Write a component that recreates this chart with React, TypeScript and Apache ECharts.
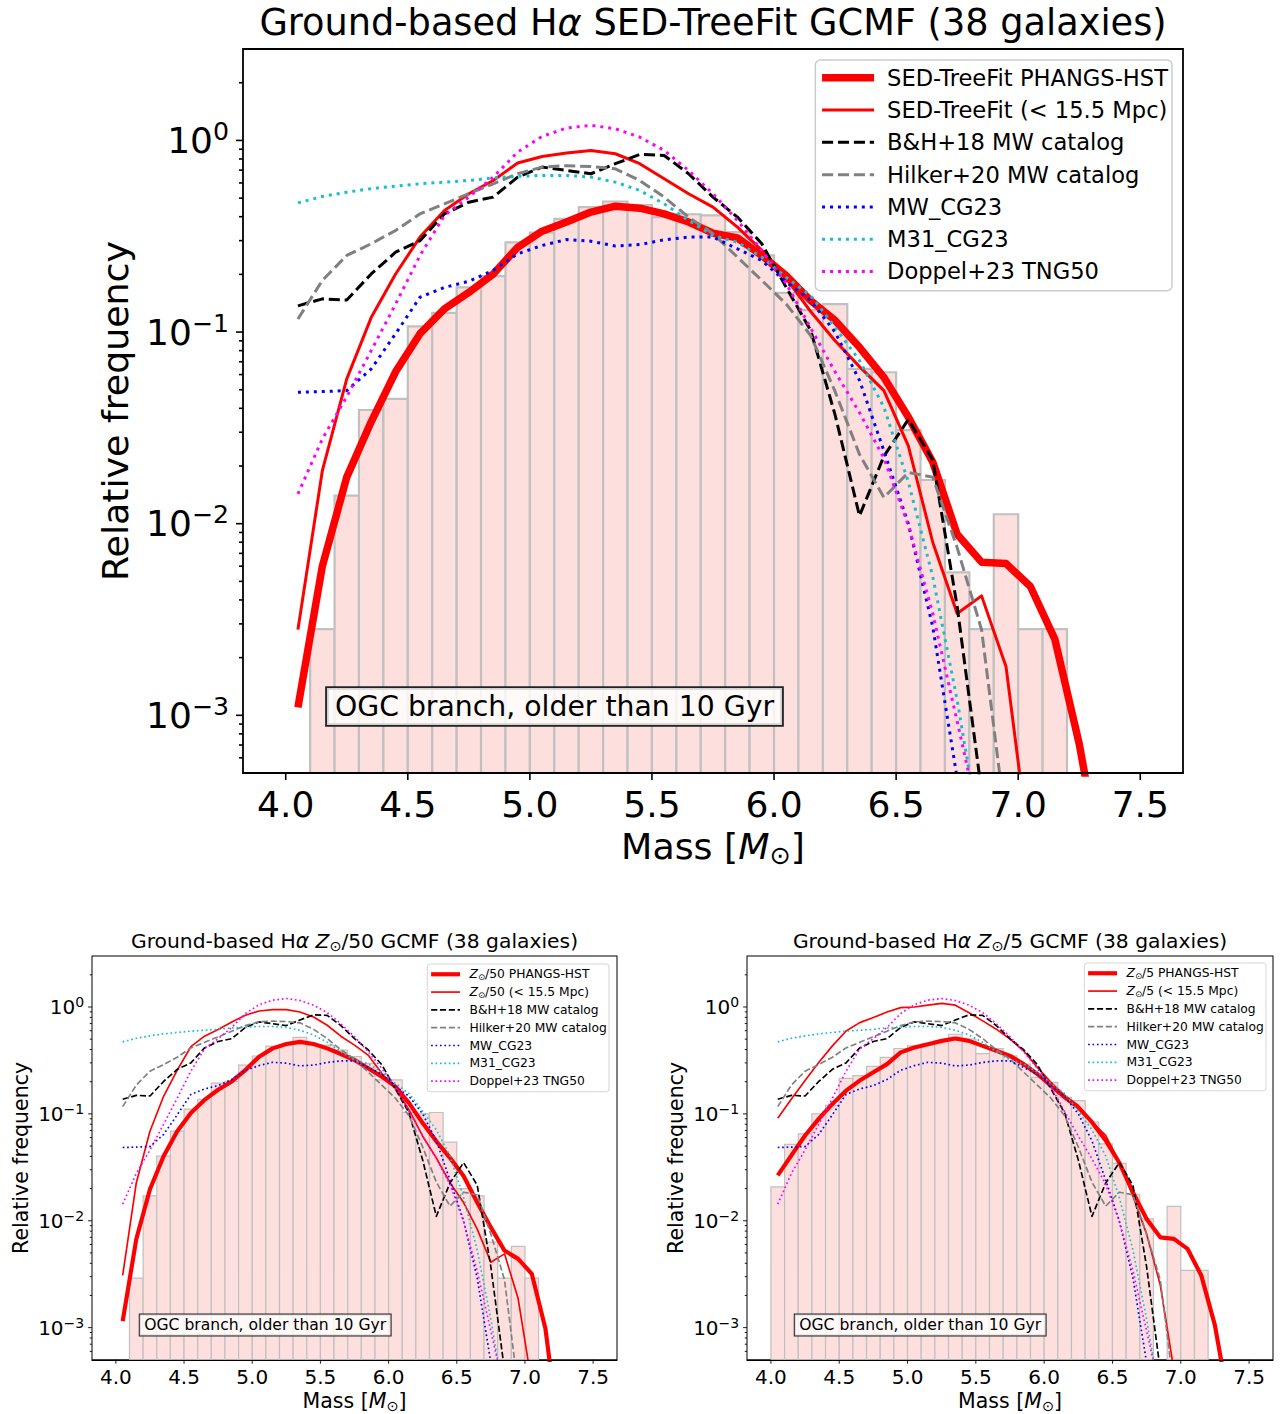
import React, { useEffect, useRef } from 'react';
import * as echarts from 'echarts';

// ---------------- data ----------------
const MASS = [4.05, 4.15, 4.25, 4.35, 4.45, 4.55, 4.65, 4.75, 4.85, 4.95, 5.05, 5.15, 5.25, 5.35, 5.45, 5.55, 5.65, 5.75, 5.85, 5.95, 6.05, 6.15, 6.25, 6.35, 6.45, 6.55, 6.65, 6.75, 6.85, 6.95, 7.05, 7.15, 7.25, 7.35];

const MAIN_THICK = [0.0011, 0.006, 0.0175, 0.034, 0.062, 0.098, 0.132, 0.161, 0.201, 0.277, 0.336, 0.375, 0.423, 0.454, 0.443, 0.414, 0.375, 0.328, 0.31, 0.251, 0.197, 0.146, 0.115, 0.0833, 0.058, 0.036, 0.021, 0.0088, 0.0063, 0.0062, 0.0047, 0.0025, 0.00071, 0.00014];
const MAIN_THIN = [0.0028, 0.0189, 0.057, 0.119, 0.201, 0.313, 0.431, 0.527, 0.618, 0.762, 0.825, 0.859, 0.887, 0.852, 0.756, 0.631, 0.527, 0.449, 0.353, 0.267, 0.19, 0.128, 0.09, 0.066, 0.0495, 0.0255, 0.008, 0.0034, 0.0042, 0.0018, 0.00018, null, null, null];

const Z50_THICK = [0.00115, 0.00675, 0.0197, 0.0402, 0.0688, 0.102, 0.135, 0.168, 0.201, 0.257, 0.343, 0.41, 0.45, 0.472, 0.45, 0.41, 0.363, 0.319, 0.267, 0.223, 0.18, 0.126, 0.082, 0.0555, 0.0388, 0.0262, 0.0148, 0.00867, 0.00526, 0.0044, 0.00319, 0.00098, 0.0001, null];
const Z50_THIN = [0.00308, 0.0227, 0.0688, 0.146, 0.257, 0.425, 0.533, 0.615, 0.725, 0.836, 0.918, 0.944, 0.944, 0.898, 0.807, 0.675, 0.533, 0.44, 0.355, 0.24, 0.174, 0.109, 0.0618, 0.0388, 0.0227, 0.0148, 0.00836, 0.00409, 0.0049, 0.00187, 0.0003, null, null, null];

const Z5_THICK = [0.0266, 0.0409, 0.0628, 0.0898, 0.124, 0.165, 0.205, 0.245, 0.292, 0.376, 0.418, 0.449, 0.482, 0.507, 0.482, 0.433, 0.389, 0.349, 0.292, 0.236, 0.184, 0.143, 0.115, 0.0836, 0.0565, 0.0349, 0.0184, 0.0104, 0.007, 0.00676, 0.00545, 0.00308, 0.00105, 0.0002];
const Z5_THIN = [0.0912, 0.138, 0.205, 0.303, 0.433, 0.597, 0.714, 0.796, 0.898, 0.986, 1.0, 1.04, 1.08, 1.04, 0.885, 0.741, 0.62, 0.5, 0.389, 0.272, 0.197, 0.148, 0.12, 0.0836, 0.0628, 0.0355, 0.017, 0.0075, 0.0025, 0.0004, null, null, null, null];

const BH18 = [0.137, 0.149, 0.147, 0.201, 0.261, 0.3, 0.414, 0.476, 0.506, 0.644, 0.726, 0.697, 0.67, 0.756, 0.845, 0.835, 0.67, 0.506, 0.398, 0.289, 0.171, 0.102, 0.037, 0.011, 0.0225, 0.035, 0.0215, 0.0037, 0.0004, null, null, null, null, null];
const HILKER20 = [0.117, 0.186, 0.251, 0.289, 0.339, 0.414, 0.467, 0.527, 0.594, 0.67, 0.726, 0.738, 0.731, 0.711, 0.618, 0.506, 0.398, 0.326, 0.246, 0.186, 0.14, 0.096, 0.049, 0.023, 0.0137, 0.0185, 0.0175, 0.0075, 0.0028, 0.00027, null, null, null, null];
const MW_CG23 = [0.0485, 0.0489, 0.0495, 0.0642, 0.098, 0.152, 0.171, 0.184, 0.21, 0.256, 0.283, 0.304, 0.298, 0.281, 0.286, 0.303, 0.313, 0.313, 0.272, 0.236, 0.182, 0.146, 0.1, 0.056, 0.024, 0.01, 0.0029, 0.00047, null, null, null, null, null, null];
const M31_CG23 = [0.472, 0.51, 0.537, 0.56, 0.578, 0.594, 0.606, 0.618, 0.638, 0.649, 0.657, 0.657, 0.644, 0.606, 0.548, 0.467, 0.382, 0.319, 0.294, 0.246, 0.193, 0.155, 0.106, 0.071, 0.0405, 0.0165, 0.0053, 0.0012, 0.00021, null, null, null, null, null];
const DOPPEL23 = [0.0143, 0.0277, 0.046, 0.08, 0.14, 0.251, 0.406, 0.506, 0.644, 0.869, 1.05, 1.16, 1.2, 1.15, 1.04, 0.887, 0.697, 0.527, 0.382, 0.267, 0.179, 0.105, 0.062, 0.038, 0.022, 0.0098, 0.0034, 0.00093, 0.00025, null, null, null, null, null];

const HIST_BINS = [4.05, 4.15, 4.25, 4.35, 4.45, 4.55, 4.65, 4.75, 4.85, 4.95, 5.05, 5.15, 5.25, 5.35, 5.45, 5.55, 5.65, 5.75, 5.85, 5.95, 6.05, 6.15, 6.25, 6.35, 6.45, 6.55, 6.65, 6.75, 6.85, 6.95, 7.05, 7.15];
const BIN_WIDTH = 0.1;
const MAIN_HIST = [null, 0.00282, 0.014, 0.0392, 0.0448, 0.107, 0.126, 0.171, 0.196, 0.294, 0.33, 0.39, 0.449, 0.48, 0.46, 0.398, 0.412, 0.406, 0.332, 0.251, 0.16, 0.13, 0.14, 0.0642, 0.0617, 0.0308, 0.0169, 0.00557, 0.00282, 0.0112, 0.00282, 0.00282];
const Z50_HIST = [null, 0.0029, 0.0171, 0.0402, 0.0688, 0.111, 0.137, 0.194, 0.201, 0.286, 0.348, 0.431, 0.44, 0.519, 0.44, 0.44, 0.395, 0.343, 0.297, 0.208, 0.208, 0.103, 0.1, 0.103, 0.0543, 0.02, 0.0171, 0.0063, 0.0029, 0.00577, 0.0029, null];
const Z5_HIST = [0.0207, 0.0518, 0.0651, 0.1, 0.12, 0.215, 0.228, 0.278, 0.337, 0.409, 0.433, 0.449, 0.482, 0.556, 0.5, 0.367, 0.409, 0.349, 0.292, 0.22, 0.197, 0.143, 0.133, 0.0836, 0.0525, 0.0344, 0.0177, 0.0104, null, 0.0136, 0.00343, 0.00343];

const X_TICKS = [4.0, 4.5, 5.0, 5.5, 6.0, 6.5, 7.0, 7.5];
const Y_MAJOR = [0.001, 0.01, 0.1, 1];
const Y_MINOR = [0.0006, 0.0007, 0.0008, 0.0009, 0.002, 0.003, 0.004, 0.005, 0.006, 0.007, 0.008, 0.009, 0.02, 0.03, 0.04, 0.05, 0.06, 0.07, 0.08, 0.09, 0.2, 0.3, 0.4, 0.5, 0.6, 0.7, 0.8, 0.9, 2];

const REF_NAMES = ['B&H+18 MW catalog', 'Hilker+20 MW catalog', 'MW_CG23', 'M31_CG23', 'Doppel+23 TNG50'];
const REF_DATA = [BH18, HILKER20, MW_CG23, M31_CG23, DOPPEL23];
const REF_COLORS = ['#000000', '#808080', '#0000ff', '#17becf', '#ff00ff'];
const REF_STYLE = ['dashed', 'dashed', 'dotted', 'dotted', 'dotted'];

// ---------------- layout ----------------
const FONT = 'DejaVu Sans';
const BAR_FILL = '#fde0dd';
const BAR_EDGE = '#c0c0c0';
const X_MIN = 3.825;
const X_MAX = 7.675;
const Y_MIN = 0.0005;
const Y_MAX = 3;

const PANELS = [
  {
    id: 'm', k: 1,
    grid: { left: 243, top: 49, width: 940, height: 724 },
    fs: { tick: 36, label: 36.3, title: 36.7, legend: 22.6, annot: 28.3 },
    legendInset: 11, legendGap: 5.6, legendTopPad: 4.5,
    thick: MAIN_THICK, thin: MAIN_THIN, hist: MAIN_HIST,
    thickLabel: 'SED-TreeFit PHANGS-HST', thinLabel: 'SED-TreeFit (< 15.5 Mpc)', zLabel: '',
    titleMid: '{n| SED-TreeFit GCMF (38 galaxies)}',
    yGap: 110, xGap: 52,
  },
  {
    id: 'l', k: 0.556,
    grid: { left: 92, top: 956, width: 525, height: 406 },
    fs: { tick: 20, label: 20.5, title: 20.3, legend: 12.3, annot: 15.6 },
    legendInset: 8, legendGap: 3.3, legendTopPad: 3,
    thick: Z50_THICK, thin: Z50_THIN, hist: Z50_HIST,
    thickLabel: ' PHANGS-HST', thinLabel: ' (< 15.5 Mpc)', zLabel: '/50',
    titleMid: '{n| }{a|Z}{s|⊙}{n|/50 GCMF (38 galaxies)}',
    yGap: 61, xGap: 29,
  },
  {
    id: 'r', k: 0.556,
    grid: { left: 747, top: 956, width: 526, height: 406 },
    fs: { tick: 20, label: 20.5, title: 20.3, legend: 12.3, annot: 15.6 },
    legendInset: 7, legendGap: 3.3, legendTopPad: 3,
    thick: Z5_THICK, thin: Z5_THIN, hist: Z5_HIST,
    thickLabel: ' PHANGS-HST', thinLabel: ' (< 15.5 Mpc)', zLabel: '/5',
    titleMid: '{n| }{a|Z}{s|⊙}{n|/5 GCMF (38 galaxies)}',
    yGap: 61, xGap: 29,
  },
];

const zip = (xs: number[], ys: (number | null)[]) =>
  xs.map((x, i) => [x, ys[i]]).filter((p) => p[1] !== null && p[1] !== undefined);

function dashFor(kind: string, lw: number) {
  if (kind === 'dashed') return [3.7 * lw, 1.6 * lw];
  if (kind === 'dotted') return [1 * lw, 1.65 * lw];
  return 'solid';
}

function richSet(fs: number, color = '#000') {
  return {
    n: { fontFamily: FONT, fontSize: fs, lineHeight: fs * 1.18, color, fill: color },
    i: { fontFamily: FONT, fontSize: fs, fontStyle: 'italic', lineHeight: fs * 1.18, color, fill: color },
    a: { fontFamily: FONT, fontSize: fs, fontStyle: 'italic', lineHeight: fs * 1.18, color, fill: color },
    s: { fontFamily: FONT, fontSize: fs * 0.7, lineHeight: fs * 0.7, verticalAlign: 'bottom', color, fill: color },
  };
}

function buildOption() {
  const grid: any[] = [];
  const xAxis: any[] = [];
  const yAxis: any[] = [];
  const series: any[] = [];
  const legend: any[] = [];
  const graphic: any[] = [];
  const labelMap: Record<string, string> = {};

  PANELS.forEach((p, i) => {
    const k = p.k;
    const fs = p.fs;
    const thickW = 7.5 * k;
    const thinW = 3 * k;
    const refW = 3 * k;
    const spineW = 1.8 * k;
    const majLen = 7 * k;
    const minLen = 4 * k;
    const g = p.grid;

    grid.push({ ...g, show: true, borderColor: '#000', borderWidth: spineW, backgroundColor: 'transparent', containLabel: false });

    xAxis.push({
      type: 'value', gridIndex: i, min: X_MIN, max: X_MAX, splitNumber: 7, z: 10,
      axisLine: { show: true, onZero: false, lineStyle: { color: '#000', width: spineW } },
      axisTick: { show: false },
      splitLine: { show: false },
      axisLabel: {
        margin: 13 * k, fontSize: fs.tick, fontFamily: FONT, color: '#000',
        formatter: (v: number) => (Math.abs(v * 2 - Math.round(v * 2)) < 1e-6 ? v.toFixed(1) : ''),
      },
      name: '{n|Mass [}{i|M}{s|⊙}{n|]}',
      nameLocation: 'middle', nameGap: p.xGap,
      nameTextStyle: { color: '#000', fontFamily: FONT, fontSize: fs.label, rich: richSet(fs.label) },
    });

    yAxis.push({
      type: 'log', logBase: 10, gridIndex: i, min: Y_MIN, max: Y_MAX,
      axisLine: { show: false },
      axisTick: { show: false },
      minorTick: { show: false },
      splitLine: { show: false },
      axisLabel: {
        margin: 14 * k, color: '#000', fontFamily: FONT, fontSize: fs.tick,
        formatter: (v: number) => {
          const l = Math.log10(v);
          const r = Math.round(l);
          if (Math.abs(l - r) > 1e-6) return '';
          return `{b|10}{s|${r === 0 ? '0' : '\u2212' + Math.abs(r)}}`;
        },
        rich: {
          b: { fontFamily: FONT, fontSize: fs.tick, lineHeight: fs.tick * 1.18, color: '#000' },
          s: { fontFamily: FONT, fontSize: fs.tick * 0.7, lineHeight: fs.tick * 0.7, verticalAlign: 'top', color: '#000' },
        },
      },
      name: 'Relative frequency',
      nameLocation: 'middle', nameGap: p.yGap,
      nameTextStyle: { color: '#000', fontFamily: FONT, fontSize: fs.label },
    });

    // histogram bars
    series.push({
      type: 'custom', name: `hist-${p.id}`, xAxisIndex: i, yAxisIndex: i, silent: true, clip: true, z: 1,
      data: zip(HIST_BINS, p.hist),
      renderItem: (params: any, api: any) => {
        const c = api.value(0);
        const h = api.value(1);
        const a = api.coord([c - BIN_WIDTH / 2, h]);
        const b = api.coord([c + BIN_WIDTH / 2, h]);
        const cs = params.coordSys;
        const bottom = cs.y + cs.height;
        return {
          type: 'rect',
          shape: { x: a[0], y: a[1], width: b[0] - a[0], height: bottom - a[1] },
          style: { fill: BAR_FILL, stroke: BAR_EDGE, lineWidth: 2.2 * k },
        };
      },
    });

    // axis ticks (major x, major/minor log y)
    const tickData = [
      ...X_TICKS.map((v) => [v, 1, 0]),
      ...Y_MAJOR.map((v) => [4, v, 1]),
      ...Y_MINOR.map((v) => [4, v, 2]),
    ];
    series.push({
      type: 'custom', name: `ticks-${p.id}`, xAxisIndex: i, yAxisIndex: i, silent: true, clip: false, z: 10,
      data: tickData,
      renderItem: (params: any, api: any) => {
        const cs = params.coordSys;
        const kind = api.value(2);
        const pt = api.coord([api.value(0), api.value(1)]);
        const style = { stroke: '#000', lineWidth: 1.6 * k };
        if (kind === 0) {
          return { type: 'line', shape: { x1: pt[0], y1: cs.y + cs.height, x2: pt[0], y2: cs.y + cs.height + majLen }, style };
        }
        const len = kind === 1 ? majLen : minLen;
        return { type: 'line', shape: { x1: cs.x - len, y1: pt[1], x2: cs.x, y2: pt[1] }, style };
      },
    });

    const names: string[] = [];
    const lineSeries = (name: string, data: any[], color: string, width: number, type: any, label: string) => {
      names.push(name);
      labelMap[name] = label;
      series.push({
        type: 'line', name, xAxisIndex: i, yAxisIndex: i, data, symbol: 'none', showSymbol: false,
        silent: true, clip: true, z: 3, emphasis: { disabled: true },
        itemStyle: { color },
        lineStyle: { color, width, type, cap: 'butt', join: 'round' },
      });
    };

    const thickLabel = p.zLabel ? `{i|Z}{s|⊙}{n|${p.zLabel}${p.thickLabel}}` : `{n|${p.thickLabel}}`;
    const thinLabel = p.zLabel ? `{i|Z}{s|⊙}{n|${p.zLabel}${p.thinLabel}}` : `{n|${p.thinLabel}}`;
    lineSeries(`${p.id}|thick`, zip(MASS, p.thick), '#ff0000', thickW, 'solid', thickLabel);
    lineSeries(`${p.id}|thin`, zip(MASS, p.thin), '#ff0000', thinW, 'solid', thinLabel);
    REF_NAMES.forEach((nm, j) => {
      lineSeries(`${p.id}|${nm}`, zip(MASS, REF_DATA[j]), REF_COLORS[j], refW, dashFor(REF_STYLE[j], refW), `{n|${nm}}`);
    });

    const legRight = 1283 - (g.left + g.width) + p.legendInset;
    legend.push({
      orient: 'vertical', right: legRight, top: g.top + p.legendInset,
      data: names, selectedMode: false,
      itemWidth: 52 * k, itemHeight: 12 * k, itemGap: p.legendGap,
      padding: [p.legendTopPad, 4 * k, 6 * k, 3 * k],
      backgroundColor: 'rgba(255,255,255,0.8)',
      borderColor: '#cccccc', borderWidth: 1.5 * k, borderRadius: 5 * k,
      itemStyle: { opacity: 0 },
      lineStyle: { width: 'inherit', type: 'inherit' },
      formatter: (name: string) => labelMap[name],
      textStyle: {
        fontFamily: FONT, fontSize: fs.legend, color: '#000', lineHeight: fs.legend * 1.18, padding: [0, 0, 0, 8 * k],
        rich: richSet(fs.legend),
      },
    });

    // title
    graphic.push({
      type: 'text', z: 100, x: g.left + g.width / 2, y: g.top - 27 * k,
      style: {
        text: `{n|Ground-based H}{a|α}${p.titleMid}`,
        align: 'center', verticalAlign: 'middle', fill: '#000',
        rich: richSet(fs.title),
      },
    });

    // annotation box
    graphic.push({
      type: 'text', z: 100, x: g.left + 311.5 * k, y: g.top + g.height - 66.5 * k,
      style: {
        text: 'OGC branch, older than 10 Gyr',
        fontFamily: FONT, fontSize: fs.annot, fill: '#000',
        align: 'center', verticalAlign: 'middle',
        backgroundColor: 'rgba(255,255,255,0.8)', borderColor: '#222', borderWidth: 1.8 * k,
        padding: [5 * k, 8 * k, 4 * k, 8 * k],
      },
    });
  });

  return {
    animation: false,
    backgroundColor: '#ffffff',
    textStyle: { fontFamily: FONT },
    grid, xAxis, yAxis, series, legend, graphic,
  };
}

export default function App() {
  const ref = useRef<HTMLDivElement>(null);
  useEffect(() => {
    const chart = echarts.init(ref.current!, null, { renderer: 'svg' });
    chart.setOption(buildOption() as any);
    return () => chart.dispose();
  }, []);
  return (
    <div
      ref={ref}
      style={{ position: 'absolute', left: 0, top: 0, width: 1283, height: 1414, background: '#fff' }}
    />
  );
}
